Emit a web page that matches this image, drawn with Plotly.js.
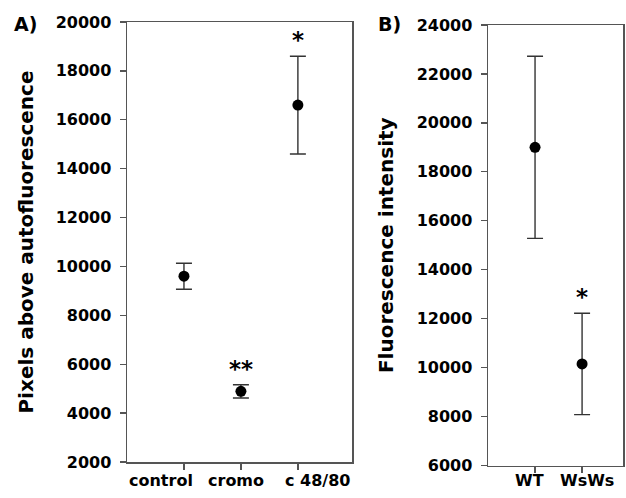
<!DOCTYPE html>
<html>
<head>
<meta charset="utf-8">
<script src="https://cdn.plot.ly/plotly-3.0.1.min.js"></script>
<style>html,body{margin:0;padding:0;background:#fff;}#chart{width:626px;height:498px;}</style>
</head>
<body>
<div id="chart"></div>
<script>
// Panel A
const catsA = ["control", "cromo", "c 48/80"];
const valsA = [9600, 4890, 16600];
const errA = [530, 270, 2000];
const sigA = ["", "**", "*"];
const yTicksA = [2000, 4000, 6000, 8000, 10000, 12000, 14000, 16000, 18000, 20000];
// Panel B
const catsB = ["WT", "WsWs"];
const valsB = [19000, 10150];
const errB = [3720, 2070];
const sigB = ["", "*"];
const yTicksB = [6000, 8000, 10000, 12000, 14000, 16000, 18000, 20000, 22000, 24000];

// category label offsets (label centres sit slightly off the tick marks in the original)
const labelShiftA = [-0.4, -0.08, 0.35];
const labelShiftB = [-0.12, 0.1];

const FONT = "DejaVu Sans, Verdana, sans-serif";
const axisCol = "#555";

function trace(cats, vals, errs, xa, ya) {
  return {
    x: cats.map((c, i) => i + 1), y: vals, xaxis: xa, yaxis: ya,
    type: "scatter", mode: "markers",
    marker: {color: "#000", size: 11},
    error_y: {type: "data", array: errs, visible: true, color: "#333", thickness: 1.4, width: 8},
    hoverinfo: "skip", showlegend: false
  };
}

const annotations = [];
const sigFont = {family: FONT, size: 23, color: "#000"};
sigA.forEach((s, i) => { if (s) annotations.push({xref: "x", yref: "y", x: i + 1, y: valsA[i] + errA[i], text: "<b>" + s + "</b>", showarrow: false, yanchor: "bottom", yshift: 1, font: sigFont}); });
sigB.forEach((s, i) => { if (s) annotations.push({xref: "x2", yref: "y2", x: i + 1, y: valsB[i] + errB[i], text: "<b>" + s + "</b>", showarrow: false, yanchor: "bottom", yshift: 1, font: sigFont}); });
const catFont = {family: FONT, size: 16, color: "#000"};
catsA.forEach((c, i) => annotations.push({xref: "x", yref: "paper", x: i + 1 + labelShiftA[i], y: 1 - 480/498, text: "<b>" + c + "</b>", showarrow: false, yanchor: "middle", xanchor: "center", font: catFont}));
catsB.forEach((c, i) => annotations.push({xref: "x2", yref: "paper", x: i + 1 + labelShiftB[i], y: 1 - 480/498, text: "<b>" + c + "</b>", showarrow: false, yanchor: "middle", xanchor: "center", font: catFont}));
annotations.push({xref: "paper", yref: "paper", x: 12/626, y: 1 - 24/498, xanchor: "left", yanchor: "middle", text: "<b>A)</b>", showarrow: false, font: {family: FONT, size: 19, color: "#000"}});
annotations.push({xref: "paper", yref: "paper", x: 376/626, y: 1 - 24/498, xanchor: "left", yanchor: "middle", text: "<b>B)</b>", showarrow: false, font: {family: FONT, size: 19, color: "#000"}});

const tickFont = {family: FONT, size: 16, color: "#000"};
function yax(domain, range, ticks, title, standoff) {
  return {domain: domain, range: range, tickvals: ticks, ticktext: ticks.map(v => "<b>" + v + "</b>"),
    showgrid: false, zeroline: false,
    showline: true, linecolor: axisCol, linewidth: 1.5, mirror: true,
    ticks: "outside", ticklen: 6, tickcolor: axisCol, tickwidth: 1.3,
    tickfont: tickFont, ticklabelstandoff: 5, automargin: false,
    title: {text: "<b>" + title + "</b>", font: {family: FONT, size: 20, color: "#000"}, standoff: standoff}};
}
function xax(domain, range, cats, anchor) {
  return {domain: domain, range: range, anchor: anchor, tickvals: cats.map((c, i) => i + 1), ticktext: cats,
    showticklabels: false,
    showgrid: false, zeroline: false, showline: true, linecolor: axisCol, linewidth: 1.5, mirror: true,
    ticks: "outside", ticklen: 6, tickcolor: axisCol, tickwidth: 1.3,
    automargin: false};
}

const layout = {
  width: 626, height: 498, margin: {l: 0, r: 0, t: 0, b: 0},
  paper_bgcolor: "#fff", plot_bgcolor: "#fff",
  xaxis: xax([127/626, 352/626], [0, 3.95], catsA, "y"),
  yaxis: Object.assign(yax([1 - 462/498, 1 - 22/498], [2000, 20000], yTicksA, "Pixels above autofluorescence", 16), {anchor: "x"}),
  xaxis2: xax([488/626, 623/626], [0, 2.87], catsB, "y2"),
  yaxis2: Object.assign(yax([1 - 465.5/498, 1 - 25/498], [6000, 24000], yTicksB, "Fluorescence intensity", 17), {anchor: "x2"}),
  annotations: annotations
};

Plotly.newPlot("chart", [trace(catsA, valsA, errA, "x", "y"), trace(catsB, valsB, errB, "x2", "y2")], layout, {staticPlot: true});
</script>
</body>
</html>
